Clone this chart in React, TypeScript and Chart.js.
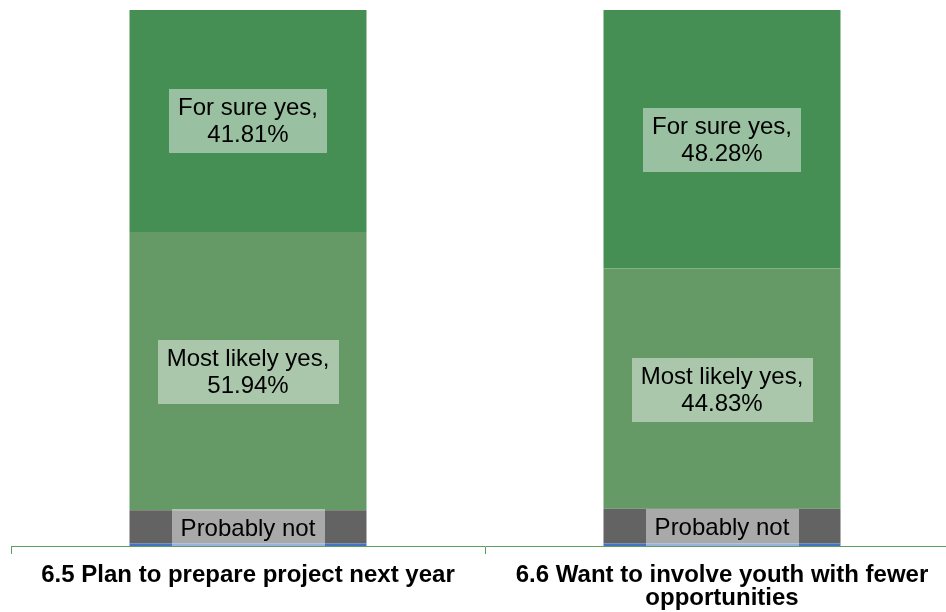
import React, { useEffect, useRef } from "react";
import { Chart, registerables } from "chart.js";

Chart.register(...registerables);

const categories: (string | string[])[] = [
  "6.5 Plan to prepare project next year",
  ["6.6 Want to involve youth with fewer", "opportunities"],
];
const seriesNames = ["Definitely not", "Probably not", "Most likely yes", "For sure yes"];
const definitelyNot = [0.45, 0.45];
const probablyNot = [6.2, 6.5];
const mostLikelyYes = [51.94, 44.83];
const forSureYes = [41.81, 48.28];
const seriesColors = ["#4472C4", "#636363", "#659966", "#468F54"];
const showLabel = [false, true, true, true];

const labelPlugin = {
  id: "segLabels",
  afterDatasetsDraw(chart: any) {
    const ctx = chart.ctx;
    ctx.save();
    ctx.font = "24px 'Liberation Sans', Arial, sans-serif";
    ctx.textAlign = "center";
    ctx.textBaseline = "middle";
    chart.data.datasets.forEach((ds: any, di: number) => {
      if (!showLabel[di]) return;
      const meta = chart.getDatasetMeta(di);
      meta.data.forEach((bar: any, i: number) => {
        const v = ds.data[i];
        const lines =
          di === 1 ? [ds.label] : [ds.label + ",", v.toFixed(2) + "%"];
        const lh = 27;
        const w = Math.max(...lines.map((l: string) => ctx.measureText(l).width)) + 18;
        const h = lines.length * lh + 10;
        const cx = bar.x;
        const top = Math.min(bar.y, bar.base);
        const bottom = Math.min(Math.max(bar.y, bar.base), chart.chartArea.bottom);
        const cy = (top + bottom) / 2 + 1;
        ctx.fillStyle = "rgba(255,255,255,0.45)";
        ctx.fillRect(Math.round(cx - w / 2), Math.round(cy - h / 2), Math.round(w), Math.round(h));
        ctx.fillStyle = "#000";
        lines.forEach((l: string, k: number) => {
          ctx.fillText(l, cx, cy - ((lines.length - 1) * lh) / 2 + k * lh + 1);
        });
      });
    });
    ctx.restore();
  },
};

export default function App() {
  const ref = useRef<HTMLCanvasElement>(null);
  useEffect(() => {
    const values = [definitelyNot, probablyNot, mostLikelyYes, forSureYes];
    const chart = new Chart(ref.current!, {
      type: "bar",
      data: {
        labels: categories as any,
        datasets: values.map((d, i) => ({
          label: seriesNames[i],
          data: d,
          backgroundColor: seriesColors[i],
          borderWidth: 0,
          barPercentage: 1,
          categoryPercentage: 0.5,
        })),
      },
      options: {
        responsive: false,
        animation: false,
        layout: { padding: { top: 10, left: 11, right: 1, bottom: 0 } },
        plugins: { legend: { display: false }, tooltip: { enabled: false } },
        scales: {
          x: {
            stacked: true,
            grid: {
              offset: true,
              drawOnChartArea: false,
              drawTicks: true,
              tickLength: 8,
              color: "#5E9E63",
              lineWidth: 1,
            },
            border: { display: true, color: "#5E9E63", width: 1 },
            ticks: {
              color: "#000",
              padding: 10,
              maxRotation: 0,
              autoSkip: false,
              font: { family: "'Liberation Sans', Arial, sans-serif", size: 24, weight: "bold", lineHeight: 0.95 },
            },
            afterFit(scale: any) {
              scale.height = 66;
            },
          },
          y: { stacked: true, display: false, min: 0, max: 100 },
        },
      },
      plugins: [labelPlugin],
    });
    return () => chart.destroy();
  }, []);
  return (
    <div style={{ position: "fixed", left: 0, top: 0, width: 946, height: 612, overflow: "hidden", background: "#fff" }}>
      <canvas ref={ref} width={960} height={612} style={{ display: "block" }} />
    </div>
  );
}
